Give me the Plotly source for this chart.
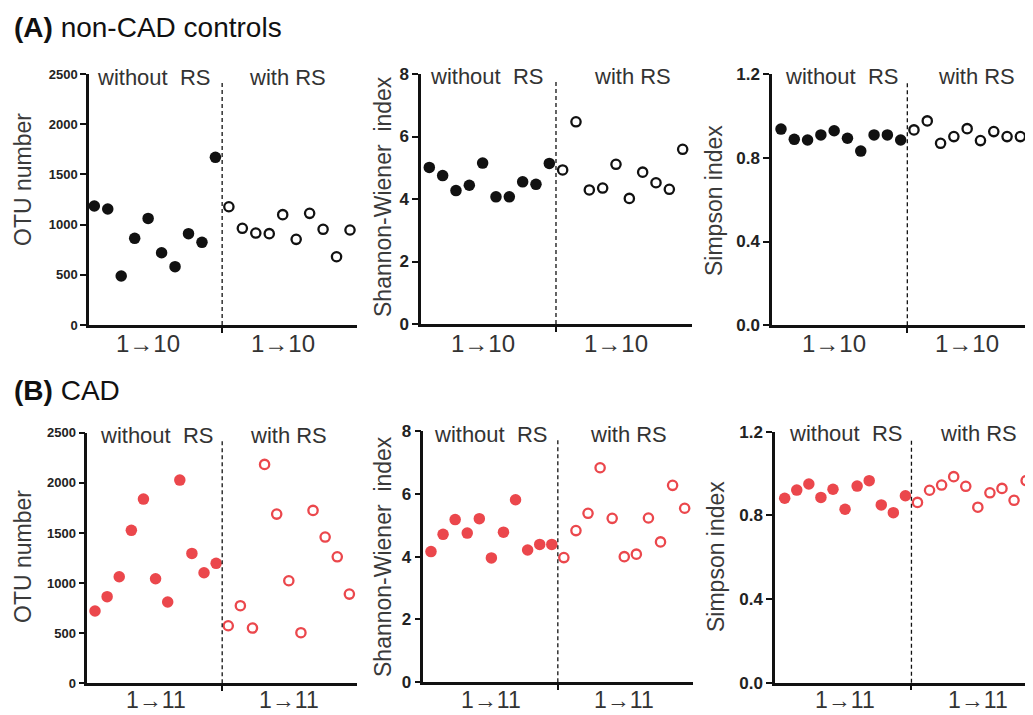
import plotly.graph_objects as go

# window is 1033x715; the page body has an 8px margin, so the figure is 8px smaller
OFF = 8
W, H = 1033 - OFF, 715 - OFF

# ---------------- data ----------------
ctrl_otu_without = [1185, 1155, 488, 863, 1062, 720, 581, 910, 823, 1670]
ctrl_otu_with = [1178, 963, 916, 910, 1099, 853, 1112, 953, 680, 946]
ctrl_sw_without = [5.01, 4.75, 4.27, 4.44, 5.15, 4.07, 4.07, 4.55, 4.47, 5.14]
ctrl_sw_with = [4.93, 6.47, 4.29, 4.35, 5.11, 4.02, 4.86, 4.52, 4.31, 5.59]
ctrl_simp_without = [0.937, 0.888, 0.885, 0.909, 0.929, 0.893, 0.832, 0.909, 0.909, 0.885]
ctrl_simp_with = [0.933, 0.976, 0.869, 0.901, 0.939, 0.882, 0.925, 0.901, 0.901, 0.939]

cad_otu_without = [721, 864, 1063, 1526, 1838, 1043, 811, 2027, 1296, 1103, 1197]
cad_otu_with = [574, 774, 551, 2184, 1688, 1023, 505, 1725, 1459, 1262, 890]
cad_sw_without = [4.16, 4.71, 5.18, 4.75, 5.21, 3.96, 4.78, 5.81, 4.21, 4.39, 4.39]
cad_sw_with = [3.97, 4.83, 5.38, 6.83, 5.22, 4.00, 4.08, 5.23, 4.47, 6.27, 5.54]
cad_simp_without = [0.882, 0.921, 0.950, 0.886, 0.925, 0.829, 0.940, 0.966, 0.850, 0.813, 0.894]
cad_simp_with = [0.862, 0.920, 0.945, 0.985, 0.939, 0.839, 0.908, 0.929, 0.872, 0.966, 0.950]

group_labels = ["without  RS", "with RS"]
titles = ["<b>(A)</b> non-CAD controls", "<b>(B)</b> CAD"]
y_titles = ["OTU number", "Shannon-Wiener  index", "Simpson index"]
y_ticks = [[0, 500, 1000, 1500, 2000, 2500], [0, 2, 4, 6, 8], [0.0, 0.4, 0.8, 1.2]]
y_ranges = [[0, 2500], [0, 8], [0, 1.2]]

BLACK = "#111111"
RED = "#EB474C"
FONT = "Liberation Sans, Arial, sans-serif"

rows = [
    dict(n=10, color=BLACK, data=[(ctrl_otu_without, ctrl_otu_with),
                                  (ctrl_sw_without, ctrl_sw_with),
                                  (ctrl_simp_without, ctrl_simp_with)],
         xlabel="1\u219210"),
    dict(n=11, color=RED, data=[(cad_otu_without, cad_otu_with),
                                (cad_sw_without, cad_sw_with),
                                (cad_simp_without, cad_simp_with)],
         xlabel="1\u219211"),
]

# layout geometry in window pixels: (x0, x1, ytop, ybottom, xrange)
panels = [
    [(89, 357, 74, 325, [0.606, 20.52]),
     (421, 692, 74, 324, [0.377, 20.7]),
     (772, 1033, 74, 325.3, [0.325, 19.95])],
    [(87.3, 357, 432.7, 683.3, [0.364, 22.63]),
     (423.3, 693, 431, 682.3, [0.363, 22.69]),
     (775, 1033, 431.7, 682.7, [0.196, 21.57])],
]
ytitle_pos = [[(23, 180), (383, 197), (714, 201)], [(23, 557), (383, 557), (716, 557)]]
group_pos = [[(154, 287, 77), (487, 632, 76), (842, 976, 76)],
             [(157, 288, 435), (491, 628, 434), (846, 978, 433)]]
xlab_pos = [[(5, 15)] * 3, [(6, 17)] * 3]
xlab_y = [343, 700]
xlab_size = [24, 23]
title_pos = [(12, 27), (12, 390)]
tick_sizes = [13, 17, 17]


def fx(px):
    return (px - OFF) / W


def fy(py):
    return 1 - (py - OFF) / H


fig = go.Figure()
annotations = []
shapes = []

k = 0
for r, row in enumerate(rows):
    n = row["n"]
    xs_without = list(range(1, n + 1))
    xs_with = list(range(n + 1, 2 * n + 1))
    for c in range(3):
        k += 1
        xa = "x" if k == 1 else f"x{k}"
        ya = "y" if k == 1 else f"y{k}"
        x0, x1, yt, yb, xr = panels[r][c]
        without_vals, with_vals = row["data"][c]
        fig.add_trace(go.Scatter(
            x=xs_without, y=without_vals, mode="markers", xaxis=xa, yaxis=ya,
            marker=dict(size=11.5, color=row["color"], line=dict(width=0)),
            cliponaxis=False, showlegend=False))
        fig.add_trace(go.Scatter(
            x=xs_with, y=with_vals, mode="markers", xaxis=xa, yaxis=ya,
            marker=dict(size=9.3, color="white", line=dict(width=2.3, color=row["color"])),
            cliponaxis=False, showlegend=False))
        lk = "" if k == 1 else str(k)
        fig.update_layout(**{
            f"xaxis{lk}": dict(
                domain=[fx(x0), min(1.0, fx(x1))], range=xr, anchor=ya, automargin=False,
                showgrid=False, zeroline=False, showline=True,
                linecolor=BLACK, linewidth=2.5,
                tickmode="array", tickvals=[n + 0.5], ticktext=[""],
                ticks="outside", ticklen=5, tickwidth=1.5, tickcolor=BLACK,
                showticklabels=False, fixedrange=True),
            f"yaxis{lk}": dict(
                domain=[fy(yb), fy(yt)], range=y_ranges[c], anchor=xa, automargin=False,
                showgrid=False, zeroline=False, showline=True,
                linecolor=BLACK, linewidth=2.5,
                tickmode="array", tickvals=y_ticks[c],
                tickformat=".1f" if c == 2 else "d",
                ticks="outside", ticklen=6, tickwidth=2, tickcolor=BLACK,
                tickfont=dict(family=FONT, size=tick_sizes[c], color="#222222", weight="bold"),
                fixedrange=True),
        })
        # dashed divider
        shapes.append(dict(type="line", xref=xa, yref=f"{ya} domain",
                           x0=n + 0.5, x1=n + 0.5, y0=0, y1=0.97,
                           line=dict(color=BLACK, width=1.3, dash="4px,3px")))
        # axis title
        tx, ty = ytitle_pos[r][c]
        annotations.append(dict(text=y_titles[c], xref="paper", yref="paper",
                                x=fx(tx), y=fy(ty), showarrow=False, textangle=-90,
                                xanchor="center", yanchor="middle",
                                font=dict(family=FONT, size=23, color="#3a3a3a")))
        # group labels
        g1, g2, gy = group_pos[r][c]
        for gx, gl in ((g1, group_labels[0]), (g2, group_labels[1])):
            annotations.append(dict(text=gl, xref="paper", yref="paper",
                                    x=fx(gx), y=fy(gy), showarrow=False,
                                    xanchor="center", yanchor="middle",
                                    font=dict(family=FONT, size=22, color="#333333")))
        # x labels
        for xv in xlab_pos[r][c]:
            annotations.append(dict(text=row["xlabel"], xref=xa, yref="paper",
                                    x=xv, y=fy(xlab_y[r]), showarrow=False,
                                    xanchor="center", yanchor="middle",
                                    font=dict(family=FONT, size=xlab_size[r], color="#333333")))
    tx, ty = title_pos[r]
    annotations.append(dict(text=titles[r], xref="paper", yref="paper",
                            x=fx(tx), y=fy(ty), showarrow=False,
                            xanchor="left", yanchor="middle",
                            font=dict(family=FONT, size=28, color="#111111")))

fig.update_layout(width=W, height=H, margin=dict(l=0, r=0, t=0, b=0, autoexpand=False),
                  paper_bgcolor="white", plot_bgcolor="white",
                  annotations=annotations, shapes=shapes, showlegend=False)

fig.write_html("out.html")
